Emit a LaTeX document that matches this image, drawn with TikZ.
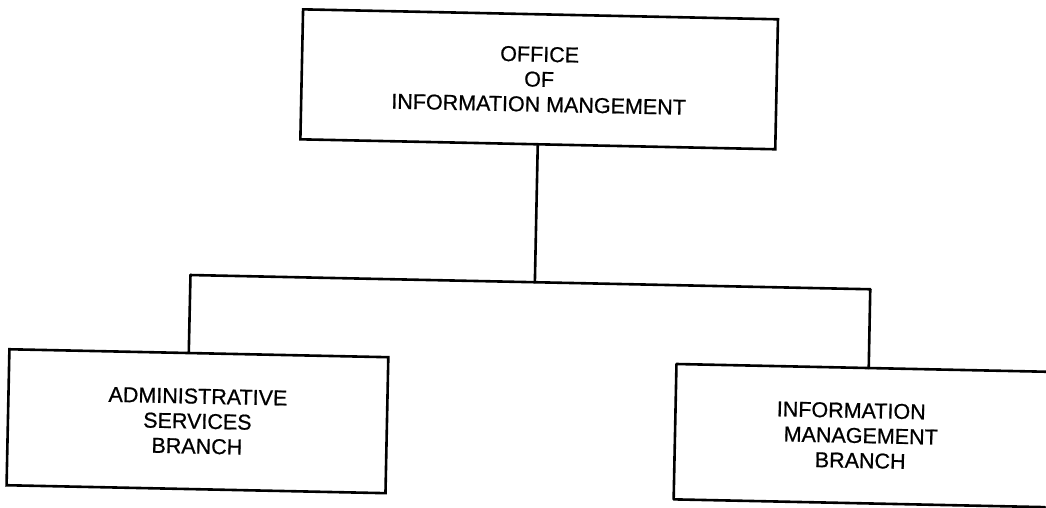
\documentclass[tikz,border=0pt]{standalone}
\usepackage{fontspec}
\setmainfont{Liberation Sans}[BoldFont={Liberation Sans},BoldFeatures={FakeBold=0.7}]
\usetikzlibrary{calc}
\begin{document}
\begin{tikzpicture}[x=1pt,y=-1pt,
  orgline/.style={line width=2.6pt, line cap=round, line join=round},
  orgbox/.style={draw, line width=2.6pt, rectangle, inner sep=0pt, transform shape},
  orgtext/.style={font=\bfseries\fontsize{21.5}{25}\selectfont, align=center}]
\useasboundingbox (0,0) rectangle (1046,508);
\begin{scope}[rotate around={-1.2:(523,254)}]
  \node[orgbox, orgtext, minimum width=475pt, minimum height=130pt] (top) at (535.5,79)
    {OFFICE\\OF\\INFORMATION MANGEMENT};
  \node[orgbox, orgtext, minimum width=379pt, minimum height=136pt] (lb) at (201,428)
    {ADMINISTRATIVE\\SERVICES\\BRANCH};
  \node[orgtext, inner sep=0pt, transform shape, minimum width=371pt, minimum height=135pt] (rb) at (864.5,428.5)
    {INFORMATION\hspace*{20pt}\\MANAGEMENT\hspace*{6pt}\\BRANCH};
  \draw[orgline] (rb.north east) -- (rb.north west) -- (rb.south west) -- (rb.south east);
  \coordinate (jm) at (535.5,282);
  \coordinate (jl) at (191,282);
  \coordinate (jr) at (871,282);
  \coordinate (lt) at ($(lb.north west)!0.4736!(lb.north east)$);
  \coordinate (rt) at ($(rb.north west)!0.518!(rb.north east)$);
  \draw[orgline] (top.south) -- (jm);
  \draw[orgline] (jl) -- (jr);
  \draw[orgline] (jl) -- (lt);
  \draw[orgline] (jr) -- (rt);
\end{scope}
\end{tikzpicture}
\end{document}
